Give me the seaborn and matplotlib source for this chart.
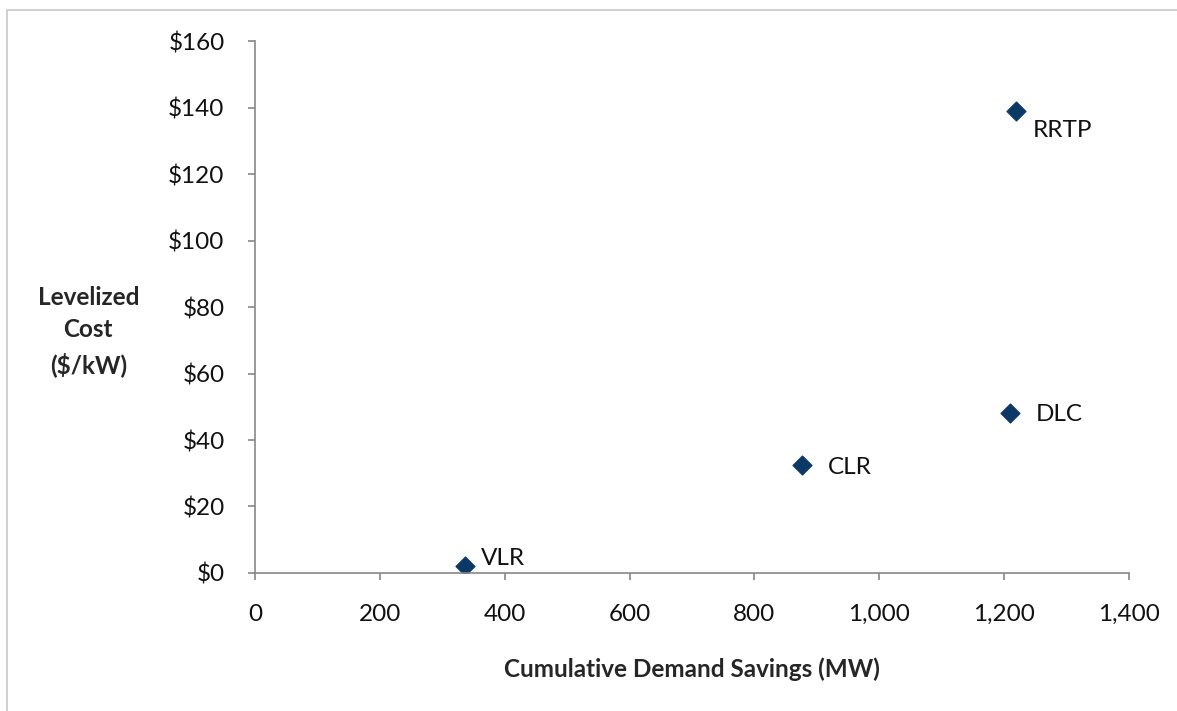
import matplotlib
matplotlib.use("Agg")
import matplotlib.pyplot as plt
import matplotlib.patches as patches
import seaborn as sns
import pandas as pd

programs = ["VLR", "CLR", "DLC", "RRTP"]
savings_mw = [336, 876, 1209, 1219]
cost_per_kw = [2.1, 32.5, 48.1, 139.0]

df = pd.DataFrame({"program": programs, "savings": savings_mw, "cost": cost_per_kw})

sns.set_style("white")
plt.rcParams["font.family"] = ["Lato", "DejaVu Sans"]

fig = plt.figure(figsize=(11.77, 7.11), dpi=100)
ax = fig.add_axes([0.2167, 0.1941, 0.9592 - 0.2167, 0.9423 - 0.1941])

sns.scatterplot(data=df, x="savings", y="cost", marker="D", s=95,
                color="#0c3866", edgecolor="#0c3866", ax=ax, legend=False)

# label offsets in points, right of each marker
offsets = {"VLR": (11.5, 5.5), "CLR": (19, -1.5), "DLC": (19, -1), "RRTP": (12, -14)}
for _, r in df.iterrows():
    ax.annotate(r["program"], (r["savings"], r["cost"]), xytext=offsets[r["program"]],
                textcoords="offset points", fontsize=17.5, va="center", ha="left",
                color="#111111")

ax.set_xlim(0, 1400)
ax.set_ylim(0, 160)
ax.set_xticks(range(0, 1401, 200))
ax.set_yticks(range(0, 161, 20))
ax.set_xticklabels([f"{v:,}" for v in range(0, 1401, 200)])
ax.set_yticklabels([f"${v}" for v in range(0, 161, 20)])
ax.tick_params(axis="both", labelsize=17.5, colors="#888888", labelcolor="#111111",
               length=5, width=1.2, direction="out", bottom=True, left=True)
ax.tick_params(axis="x", pad=17)
ax.tick_params(axis="y", pad=17)
for s in ["top", "right"]:
    ax.spines[s].set_visible(False)
for s in ["left", "bottom"]:
    ax.spines[s].set_color("#888888")
    ax.spines[s].set_linewidth(1.2)

ax.set_xlabel("Cumulative Demand Savings (MW)", fontsize=17.5, fontweight="bold", labelpad=24)
ax.set_ylabel("")
fig.text(0.075, 0.534, "Levelized\nCost\n($/kW)", fontsize=17.5, fontweight="bold",
         ha="center", va="center", linespacing=1.5)

fig.patches.append(patches.Rectangle((7 / 1177, -0.05), 1.1, 1 - 10 / 711 + 0.05,
                                     transform=fig.transFigure, fill=False,
                                     edgecolor="#c8c8c8", linewidth=1.2))

fig.savefig("out.png", dpi=100)
